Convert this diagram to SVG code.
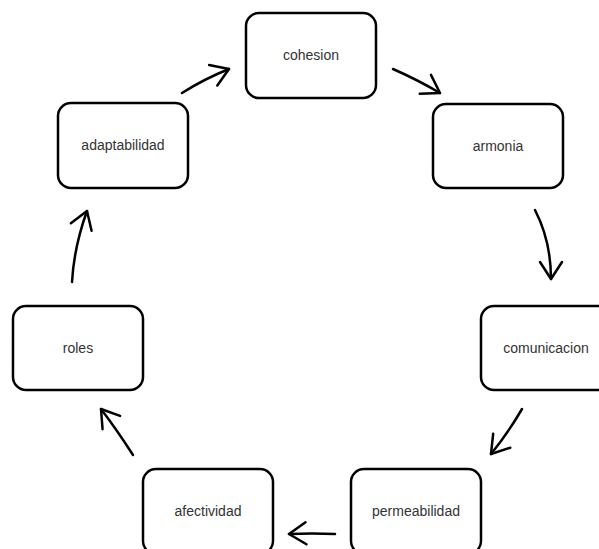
<svg xmlns="http://www.w3.org/2000/svg" width="599" height="549" viewBox="0 0 599 549">
<defs>
<style>
.box{fill:#fff;stroke:#000;stroke-width:2.5}
.lbl{font-family:"Liberation Sans",Arial,sans-serif;font-size:14px;fill:#333;text-anchor:middle}
.arr{fill:none;stroke:#000;stroke-width:2.5;stroke-linecap:round;marker-end:url(#v)}
</style>
<marker id="v" markerUnits="userSpaceOnUse" markerWidth="40" markerHeight="40" refX="0" refY="0" viewBox="-20 -20 40 40" orient="auto" overflow="visible">
<path d="M-17,-11 L0,0 L-17,11" fill="none" stroke="#000" stroke-width="2.5" stroke-linecap="round" stroke-linejoin="round"/>
</marker>
</defs>
<rect width="599" height="549" fill="#fff"/>
<g id="connectors">
<path class="arr" d="M393,69 Q418,80 440,93"/>
<path class="arr" d="M182,93 Q204,79 229,69"/>
<path class="arr" d="M535,210 Q551,241 551,279"/>
<path class="arr" d="M522,409 Q508,433 491,454"/>
<path class="arr" d="M335,534 Q312,533 289,534"/>
<path class="arr" d="M133,455 Q117,430 101,409"/>
<path class="arr" d="M72,282 Q74,247 87,211"/>
</g>
<g id="cohesion"><rect class="box" x="246" y="13" width="130" height="85" rx="13"/><text class="lbl" x="311" y="60">cohesion</text></g>
<g id="armonia"><rect class="box" x="433" y="104" width="130" height="84" rx="13"/><text class="lbl" x="498" y="151">armonia</text></g>
<g id="comunicacion"><rect class="box" x="481" y="306" width="130" height="84" rx="13"/><text class="lbl" x="546" y="353">comunicacion</text></g>
<g id="permeabilidad"><rect class="box" x="351" y="469" width="130" height="85" rx="13"/><text class="lbl" x="416" y="516">permeabilidad</text></g>
<g id="afectividad"><rect class="box" x="143" y="469" width="130" height="85" rx="13"/><text class="lbl" x="208" y="516">afectividad</text></g>
<g id="roles"><rect class="box" x="13" y="306" width="130" height="84" rx="13"/><text class="lbl" x="78" y="353">roles</text></g>
<g id="adaptabilidad"><rect class="box" x="58" y="103" width="130" height="85" rx="13"/><text class="lbl" x="123" y="150">adaptabilidad</text></g>
</svg>
